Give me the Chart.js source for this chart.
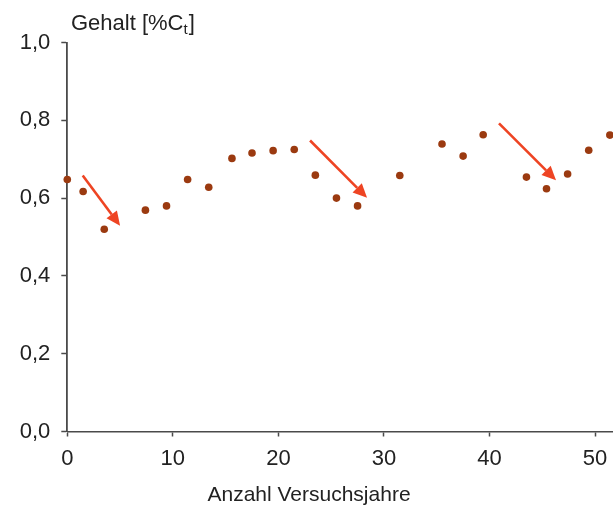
<!DOCTYPE html>
<html>
<head>
<meta charset="utf-8">
<script src="https://cdn.jsdelivr.net/npm/chart.js@4.4.1/dist/chart.umd.min.js"></script>
<style>
  html, body { margin: 0; padding: 0; background: #fff; }
</style>
</head>
<body>
<canvas id="chart" width="613" height="505"></canvas>
<script>
// Versuchsjahre (x) and Gehalt (y)
const years = [0, 1.5, 3.5, 7.4, 9.4, 11.4, 13.4, 15.6, 17.5, 19.5, 21.5, 23.5, 25.5, 27.5, 31.5, 35.5, 37.5, 39.4, 43.5, 45.4, 47.4, 49.4, 51.4];
const gehalt = [0.648, 0.617, 0.520, 0.569, 0.580, 0.648, 0.628, 0.702, 0.716, 0.722, 0.725, 0.659, 0.600, 0.580, 0.658, 0.739, 0.708, 0.763, 0.654, 0.624, 0.662, 0.723, 0.762];

const xTicks = [0, 10, 20, 30, 40, 50];
const yTicks = [0, 0.2, 0.4, 0.6, 0.8, 1.0];

// red arrows marking the drops (data units)
const arrowFrom = [[1.46, 0.658], [23.0, 0.748], [40.9, 0.792]];
const arrowTo = [[5.0, 0.529], [28.4, 0.601], [46.3, 0.646]];

const yTitle = 'Gehalt [%C';
const yTitleSub = 't';
const xTitle = 'Anzahl Versuchsjahre';

const FONT = '"Liberation Sans", Arial, sans-serif';
const TEXT = '#222';
const AXIS = '#4a4a4a';

// Arrows drawn through the chart scales
const arrowPlugin = {
    id: 'arrows',
    afterDatasetsDraw(chart) {
        const { ctx, scales } = chart;
        ctx.save();
        ctx.strokeStyle = '#ee4423';
        ctx.fillStyle = '#ee4423';
        ctx.lineWidth = 2.6;
        arrowFrom.forEach((p, i) => {
            const x1 = scales.x.getPixelForValue(p[0]);
            const y1 = scales.y.getPixelForValue(p[1]);
            const x2 = scales.x.getPixelForValue(arrowTo[i][0]);
            const y2 = scales.y.getPixelForValue(arrowTo[i][1]);
            const ang = Math.atan2(y2 - y1, x2 - x1);
            const head = 14, half = 6.5;
            const bx = x2 - head * Math.cos(ang);
            const by = y2 - head * Math.sin(ang);
            ctx.beginPath();
            ctx.moveTo(x1, y1);
            ctx.lineTo(bx, by);
            ctx.stroke();
            ctx.beginPath();
            ctx.moveTo(x2, y2);
            ctx.lineTo(bx + half * Math.sin(ang), by - half * Math.cos(ang));
            ctx.lineTo(bx - half * Math.sin(ang), by + half * Math.cos(ang));
            ctx.closePath();
            ctx.fill();
        });
        ctx.restore();
    }
};

// axis titles: y title top-left with subscript t, x title under the axis
const titlePlugin = {
    id: 'axisTitles',
    afterDraw(chart) {
        const ctx = chart.ctx;
        ctx.save();
        ctx.fillStyle = TEXT;
        ctx.textBaseline = 'alphabetic';
        ctx.textAlign = 'left';
        let x = 71;
        const y = 30;
        ctx.font = '22px ' + FONT;
        ctx.fillText(yTitle, x, y);
        x += ctx.measureText(yTitle).width;
        ctx.font = '15px ' + FONT;
        ctx.fillText(yTitleSub, x, y + 4);
        x += ctx.measureText(yTitleSub).width + 1;
        ctx.font = '22px ' + FONT;
        ctx.fillText(']', x, y);

        ctx.textAlign = 'center';
        ctx.font = '21px ' + FONT;
        ctx.fillText(xTitle, 309, 501);
        ctx.restore();
    }
};

function initChart() {
    const ctx = document.getElementById('chart').getContext('2d');
    new Chart(ctx, {
        type: 'scatter',
        data: {
            datasets: [{
                data: years.map((x, i) => ({ x: x, y: gehalt[i] })),
                backgroundColor: '#9b3a10',
                borderColor: '#9b3a10',
                pointRadius: 3.8,
                pointBorderWidth: 0,
                clip: false
            }]
        },
        options: {
            responsive: false,
            animation: false,
            devicePixelRatio: 1,
            layout: { autoPadding: false, padding: { top: 42.5, left: 0, right: 0, bottom: 0 } },
            plugins: { legend: { display: false }, tooltip: { enabled: false } },
            scales: {
                x: {
                    type: 'linear',
                    min: 0,
                    max: 51.7,
                    afterBuildTicks: s => { s.ticks = xTicks.map(v => ({ value: v })); },
                    afterFit: s => { s.height = 73.5; s.paddingLeft = 0; s.paddingRight = 0; },
                    ticks: { color: TEXT, font: { family: FONT, size: 22 }, padding: 9, maxRotation: 0, autoSkip: false },
                    grid: { drawOnChartArea: false, drawTicks: true, tickLength: 5, tickColor: AXIS, tickWidth: 1.5 },
                    border: { color: AXIS, width: 1.5 }
                },
                y: {
                    min: 0,
                    max: 1,
                    afterBuildTicks: s => { s.ticks = yTicks.map(v => ({ value: v })); },
                    afterFit: s => { s.width = 67.3; },
                    ticks: {
                        color: TEXT,
                        font: { family: FONT, size: 22 },
                        padding: 11,
                        callback: v => v.toFixed(1).replace('.', ',')
                    },
                    grid: { drawOnChartArea: false, drawTicks: true, tickLength: 6, tickColor: AXIS, tickWidth: 1.5 },
                    border: { color: AXIS, width: 1.8 }
                }
            }
        },
        plugins: [arrowPlugin, titlePlugin]
    });
}

initChart();
</script>
</body>
</html>
